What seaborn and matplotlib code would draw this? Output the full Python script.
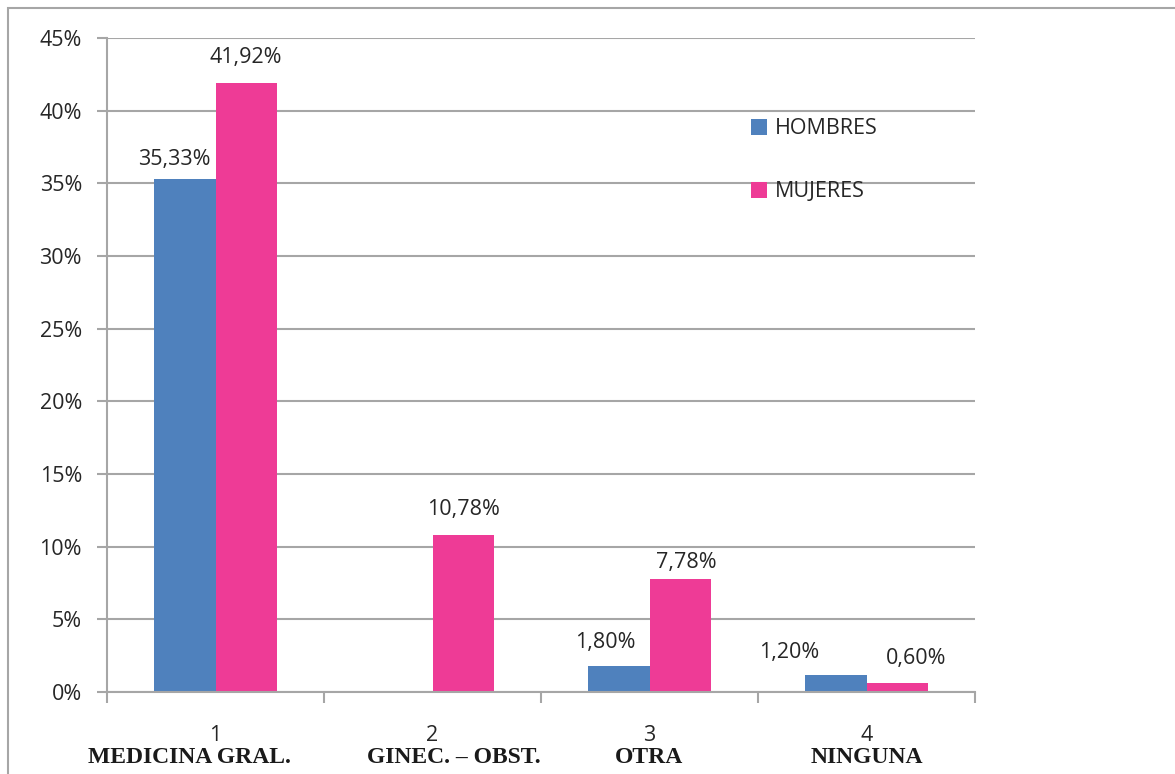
import matplotlib
matplotlib.use("Agg")
import matplotlib.pyplot as plt
import seaborn as sns
import pandas as pd
from matplotlib.patches import Rectangle, Patch
from matplotlib.ticker import MultipleLocator, FuncFormatter

categories = ["1", "2", "3", "4"]
category_names = ["MEDICINA GRAL.", "GINEC. – OBST.", "OTRA", "NINGUNA"]
hombres = [35.33, 0.0, 1.80, 1.20]
mujeres = [41.92, 10.78, 7.78, 0.60]
series = ["HOMBRES", "MUJERES"]
colors = ["#4F81BD", "#EE3B96"]

# label placement (pixels, relative to bar top centre) as in the reference
label_shift = [
    [(-10, 19), (0, 0), (-13, 23), (-46, 22)],
    [(-1, 25), (0, 26), (6, 16), (19, 25)],
]

df = pd.DataFrame({
    "cat": categories * 2,
    "val": hombres + mujeres,
    "serie": [series[0]] * 4 + [series[1]] * 4,
})

sns.set_theme(style="white")
plt.rcParams["font.family"] = ["Open Sans", "DejaVu Sans"]
FS = 15.5
TXT = "#262626"
PX = 72 / 100  # points per pixel

fig = plt.figure(figsize=(11.75, 7.74), dpi=100)
ax = fig.add_axes([107 / 1175, 1 - 692 / 774, (975 - 107) / 1175, (692 - 38) / 774])

sns.barplot(data=df, x="cat", y="val", hue="serie", palette=colors,
            width=0.57, saturation=1, linewidth=0, ax=ax, legend=False)

ax.set_ylim(0, 45)
ax.set_xlim(-0.5, 3.5)
ax.yaxis.set_major_locator(MultipleLocator(5))
ax.yaxis.set_major_formatter(FuncFormatter(lambda v, p: f"{int(round(v))}%"))
ax.grid(axis="y", color="#A6A6A6", linewidth=1.5)
ax.set_axisbelow(True)
for s in ["top", "right"]:
    ax.spines[s].set_visible(False)
for s in ["left", "bottom"]:
    ax.spines[s].set_color("#A6A6A6")
    ax.spines[s].set_linewidth(1.5)

ax.set_xticks([-0.5, 0.5, 1.5, 2.5, 3.5], minor=False)
ax.set_xticklabels([])
ax.tick_params(axis="x", which="major", direction="out", length=8, width=1.5, color="#A6A6A6", bottom=True)
ax.set_xticks(range(4), minor=True)
ax.set_xticklabels(categories, minor=True)
ax.tick_params(axis="x", which="minor", length=0, pad=24, labelsize=FS, labelcolor=TXT)
ax.tick_params(axis="y", direction="out", length=7, width=1.5, color="#A6A6A6", left=True,
               labelsize=FS, labelcolor=TXT, pad=11)
ax.set_xlabel("")
ax.set_ylabel("")

# data labels
for container, vals, shifts in zip(ax.containers, [hombres, mujeres], label_shift):
    for bar, v, (dx, dy) in zip(container, vals, shifts):
        if v <= 0:
            continue
        ax.annotate(f"{v:.2f}%".replace(".", ","),
                    (bar.get_x() + bar.get_width() / 2, bar.get_height()),
                    xytext=(dx * PX, dy * PX), textcoords="offset points",
                    ha="center", va="center", fontsize=FS, color=TXT)

# bold category names
name_offsets = [-0.12, 0.1, 0.0, 0.0]
for i, (nm, off) in enumerate(zip(category_names, name_offsets)):
    ax.text(i + off, -0.0995, nm, transform=ax.get_xaxis_transform(),
            ha="center", va="center", fontsize=17, fontweight="bold",
            family=["Liberation Serif", "DejaVu Serif"], color="#1A1A1A")

# legend
handles = [Patch(facecolor=c, edgecolor="none") for c in colors]
leg = ax.legend(handles, series, loc="upper left", bbox_to_anchor=(0.72, 0.907),
                frameon=False, fontsize=FS, labelspacing=1.95,
                handlelength=0.75, handleheight=0.75, handletextpad=0.35)
for t in leg.get_texts():
    t.set_color(TXT)

# outer frame
fig.patches.append(Rectangle((8 / 1175, -0.05), 1.2, 1 - 8 / 774 + 0.05,
                             transform=fig.transFigure, fill=False,
                             edgecolor="#A6A6A6", linewidth=1.5))

fig.savefig("out.png", dpi=100)
